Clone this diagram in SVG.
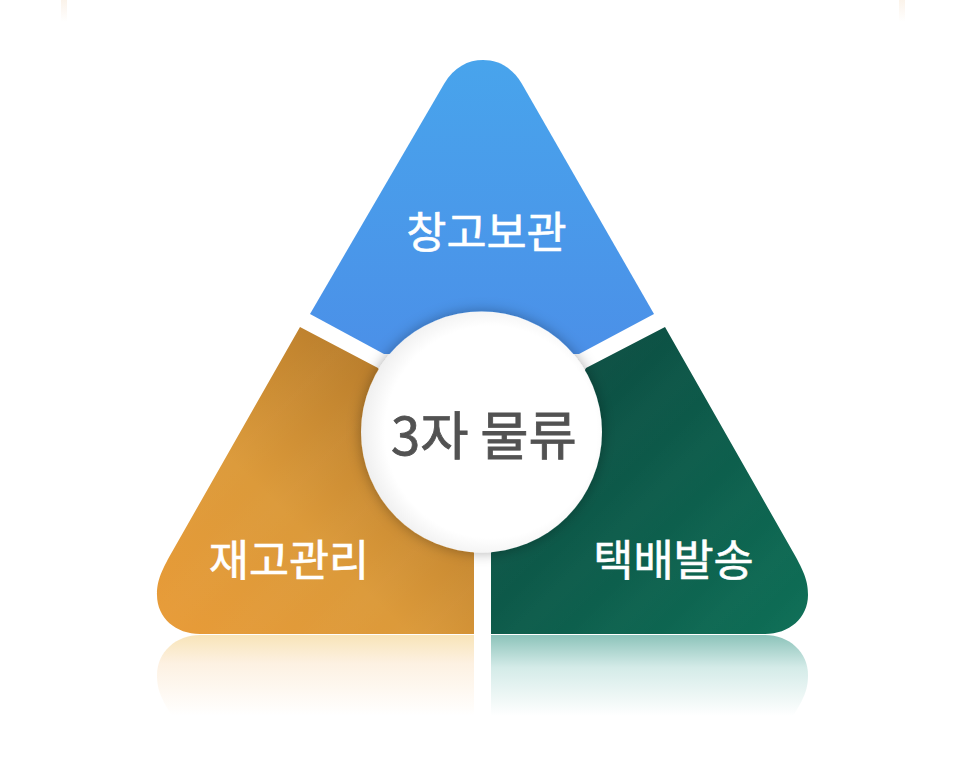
<svg xmlns="http://www.w3.org/2000/svg" width="966" height="760" viewBox="0 0 966 760">
<style>
.lbl{font-family:"Noto Sans CJK KR","Noto Sans",sans-serif;font-size:43.600px;font-weight:400;fill:#fff;stroke:#fff;stroke-width:0.6px;text-anchor:middle}
.ctr{font-family:"Noto Sans CJK KR","Noto Sans",sans-serif;font-size:52.500px;font-weight:400;fill:#525252;stroke:#525252;stroke-width:0.8px;text-anchor:middle}
.stripe{fill:url(#stripes)}
</style>
<defs>
<linearGradient id="blue" x1="0" y1="60" x2="0" y2="354" gradientUnits="userSpaceOnUse"><stop offset="0" stop-color="#48a4ec"/><stop offset="1" stop-color="#4b90e8"/></linearGradient>
<linearGradient id="gold" x1="170" y1="625" x2="420" y2="370" gradientUnits="userSpaceOnUse"><stop offset="0" stop-color="#e79b38"/><stop offset="0.45" stop-color="#dc9a3a"/><stop offset="1" stop-color="#b57a2a"/></linearGradient>
<linearGradient id="green" x1="800" y1="625" x2="540" y2="360" gradientUnits="userSpaceOnUse"><stop offset="0" stop-color="#0e6e56"/><stop offset="1" stop-color="#0c4c41"/></linearGradient>
<linearGradient id="stripes" x1="0" y1="0" x2="46" y2="46" gradientUnits="userSpaceOnUse" spreadMethod="repeat"><stop offset="0" stop-color="#fff" stop-opacity="0"/><stop offset="0.5" stop-color="#fff" stop-opacity="0.014"/><stop offset="1" stop-color="#fff" stop-opacity="0"/></linearGradient>
<linearGradient id="rgold" x1="0" y1="635" x2="0" y2="716" gradientUnits="userSpaceOnUse"><stop offset="0" stop-color="#f8e4b8"/><stop offset="0.35" stop-color="#fdf1e2"/><stop offset="1" stop-color="#fff"/></linearGradient>
<linearGradient id="rgreen" x1="0" y1="635" x2="0" y2="716" gradientUnits="userSpaceOnUse"><stop offset="0" stop-color="#8cc3ba"/><stop offset="0.4" stop-color="#d4ebe8"/><stop offset="1" stop-color="#fff"/></linearGradient>
<linearGradient id="fade" x1="0" y1="0" x2="0" y2="22" gradientUnits="userSpaceOnUse"><stop offset="0" stop-color="#fbf3ea"/><stop offset="1" stop-color="#fff"/></linearGradient>
<radialGradient id="disc" cx="0.54" cy="0.5" r="0.55"><stop offset="0.8" stop-color="#fff"/><stop offset="1" stop-color="#ededed"/></radialGradient>
<filter id="sh" x="-20%" y="-20%" width="140%" height="140%"><feDropShadow dx="0" dy="0" stdDeviation="7" flood-color="#000" flood-opacity="0.32"/></filter>
<path id="pb" d="M310 314L444 84C454 67 468 60 483 60C498 60 512 67 522 84L654 314L579 354L384 354Z"/>
<path id="pg" d="M300 327L378 368L474 553V634H200C176 634 157 618 157 595C157 582 160 573 172 552Z"/>
<path id="pe" d="M665 327L586 368L491 553V634H765C789 634 808 618 808 595C808 582 805 573 793 552Z"/>
</defs>
<rect width="966" height="760" fill="#fff"/>
<rect x="61" y="0" width="6" height="22" fill="url(#fade)"/>
<rect x="899" y="0" width="6" height="22" fill="url(#fade)"/>
<g id="node-reflections">
<path d="M474 635H200C176 635 157 652 157 675C157 688 160 697 172 716H474Z" fill="url(#rgold)"/>
<path d="M491 635H765C789 635 808 652 808 675C808 688 805 697 793 716H491Z" fill="url(#rgreen)"/>
</g>
<g id="node-blue">
<use href="#pb" fill="url(#blue)"/>
<text class="lbl" x="486.500" y="248">창고보관</text>
</g>
<g id="node-gold">
<use href="#pg" fill="url(#gold)"/>
<use href="#pg" class="stripe"/>
<text class="lbl" x="289" y="576">재고관리</text>
</g>
<g id="node-green">
<use href="#pe" fill="url(#green)"/>
<use href="#pe" class="stripe"/>
<text class="lbl" x="673.500" y="576">택배발송</text>
</g>
<g id="node-center">
<circle cx="481.500" cy="432" r="120.500" fill="url(#disc)" filter="url(#sh)"/>
<text class="ctr" x="484" y="455">3자 물류</text>
</g>
<g id="connectors"/>
</svg>
